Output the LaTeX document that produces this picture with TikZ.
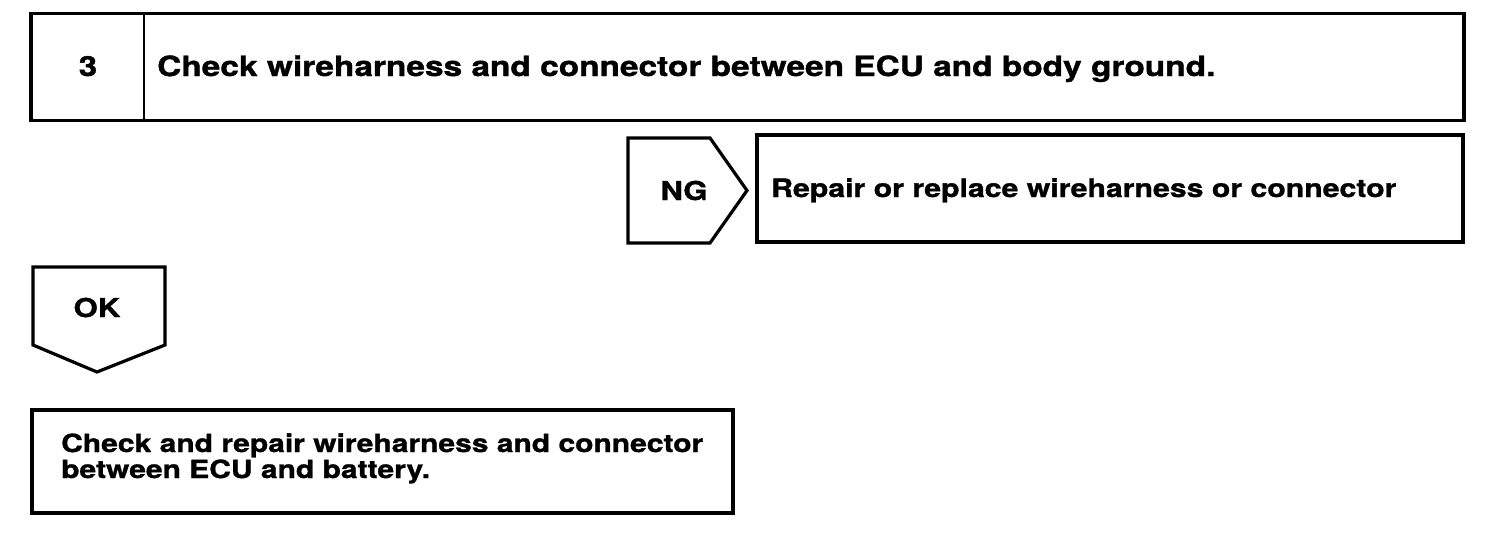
\documentclass[tikz,border=0pt]{standalone}
\usepackage{fontspec}
\newfontfamily\hv[FakeStretch=1.2,FakeBold=1.2]{TeX Gyre Heros}
\begin{document}
\begin{tikzpicture}[x=1pt,y=-1pt,
  frame/.style={draw=black,line width=3.2pt,line join=miter,fill=none},
  box/.style={frame,rectangle,inner sep=0pt},
  lbl/.style={inner sep=0pt,anchor=base west,font=\hv\bfseries\fontsize{27.85pt}{30pt}\selectfont},
  small/.style={inner sep=0pt,anchor=base west,font=\hv\bfseries\fontsize{25pt}{26pt}\selectfont},
  tag/.style={inner sep=0pt,anchor=base,font=\hv\bfseries\fontsize{26pt}{28pt}\selectfont}]
\useasboundingbox (0,0) rectangle (1504,554);
% step box
\node[box,minimum width=1433pt,minimum height=107pt] (stepbox) at (747.5,67) {};
\coordinate (divtop) at (144,13.5);
\coordinate (divbot) at (144,120.5);
\draw[line width=2.4pt] (divtop) -- (divbot);
\node[tag,font=\hv\bfseries\fontsize{27.6pt}{30pt}\selectfont] (num) at (88,76) {3};
\node[lbl] (title) at (157,76) {Check wireharness and connector between ECU and body ground.};
% NG arrow
\coordinate (ng1) at (628,138);
\coordinate (ng2) at (710,138);
\coordinate (ng3) at (747,190.5);
\coordinate (ng4) at (710,243);
\coordinate (ng5) at (628,243);
\draw[frame] (ng1) -- (ng2) -- (ng3) -- (ng4) -- (ng5) -- cycle;
\node[tag] (ng) at (684,200) {NG};
% repair box
\node[box,minimum width=706pt,minimum height=107pt] (repair) at (1110,188.5) {};
\node[small,font=\hv\bfseries\fontsize{25.2pt}{26pt}\selectfont] (repairtxt) at (771,197) {Repair or replace wireharness or connector};
% OK arrow
\coordinate (ok1) at (33,267);
\coordinate (ok2) at (165,267);
\coordinate (ok3) at (165,345);
\coordinate (ok4) at (97,372);
\coordinate (ok5) at (33,345);
\draw[frame] (ok1) -- (ok2) -- (ok3) -- (ok4) -- (ok5) -- cycle;
\node[tag] (ok) at (97,317) {OK};
% final box
\node[box,minimum width=701pt,minimum height=103pt] (final) at (382.5,461.5) {};
\node[small] (final1) at (61,452) {Check and repair wireharness and connector};
\node[small] (final2) at (61,478) {between ECU and battery.};
\end{tikzpicture}
\end{document}
